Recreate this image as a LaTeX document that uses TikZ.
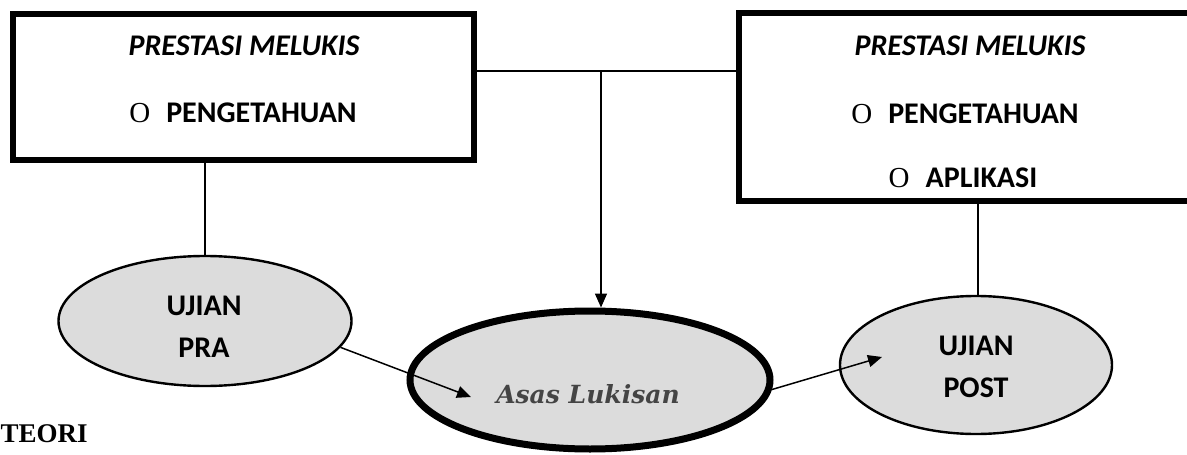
\documentclass[tikz,border=0pt]{standalone}
\usepackage{fontspec}
\setmainfont{Carlito}
\newfontfamily\timesf{Liberation Serif}
\newfontfamily\asasf{DejaVu Serif}
\usetikzlibrary{shapes.geometric,arrows.meta}

\tikzset{
  box/.style={draw, line width=6pt, minimum width=461pt, inner sep=0pt},
  oval/.style={ellipse, draw, line width=2.4pt, fill=ovalgrey, inner sep=0pt},
  bigoval/.style={oval, line width=7pt},
  link/.style={line width=1.5pt},
  flow/.style={link, -{Triangle[length=14pt,width=12pt]}},
  txt/.style={anchor=base, inner sep=0pt, font=\fontsize{30}{36}\selectfont\bfseries},
  itxt/.style={txt, font=\fontsize{30}{36}\selectfont\bfseries\itshape},
}
\definecolor{ovalgrey}{HTML}{DCDCDC}
\definecolor{asasgrey}{HTML}{444444}
\newcommand{\bulletO}{{\timesf\mdseries\upshape\fontsize{29}{34}\selectfont O}\hspace{16pt}}

\begin{document}
\begin{tikzpicture}[x=1pt,y=-1pt]
  \useasboundingbox (0,0) rectangle (1187,455);
  \fill[white] (0,0) rectangle (1187,455);
  \clip (0,0) rectangle (1187,455);

  % two result boxes
  \node[box, minimum height=146pt] (lbox) at (243.5,87) {};
  \node[box, minimum height=188pt] (rbox) at (969.5,107) {};

  \node[itxt] (lt1) at (244,56) {PRESTASI MELUKIS};
  \node[txt] (lt2) at (243,122) {\bulletO PENGETAHUAN};

  \node[itxt] (rt1) at (970,55) {PRESTASI MELUKIS};
  \node[txt] (rt2) at (965,123) {\bulletO PENGETAHUAN};
  \node[txt] (rt3) at (963,187) {\bulletO APLIKASI};

  % tests and the central unit
  \node[oval, minimum width=293pt, minimum height=130pt] (pra) at (205,321) {};
  \node[bigoval, minimum width=360pt, minimum height=138pt] (asas) at (590,380) {};
  \node[oval, minimum width=272pt, minimum height=138pt] (post) at (976,365) {};

  \node[txt] (prat1) at (204,315) {UJIAN};
  \node[txt] (prat2) at (204,357) {PRA};
  \node[txt] (postt1) at (976,355) {UJIAN};
  \node[txt] (postt2) at (976,397) {POST};
  \node[anchor=base, inner sep=0pt, text=asasgrey,
        font=\asasf\fontsize{25}{30}\selectfont\bfseries\itshape] (asast) at (588,403) {Asas Lukisan};

  \node[anchor=base west, inner sep=0pt, font=\timesf\fontsize{27}{32}\selectfont\bfseries] (teori) at (0.5,442) {TEORI};

  % connectors
  \coordinate (junc) at (601,71);
  \coordinate (praend) at (471,397);
  \coordinate (postend) at (882,357);

  \draw[link] (lbox.east |- junc) -- (rbox.west |- junc);
  \draw[flow] (junc) -- (junc |- asas.north);
  \draw[link] (pra.north |- lbox.south) -- (pra.north);
  \draw[link] ([xshift=2pt]post.north |- rbox.south) -- ([xshift=2pt]post.north);
  \draw[flow] (pra.-11) -- (praend);
  \draw[flow] (asas.-3) -- (postend);
\end{tikzpicture}
\end{document}
